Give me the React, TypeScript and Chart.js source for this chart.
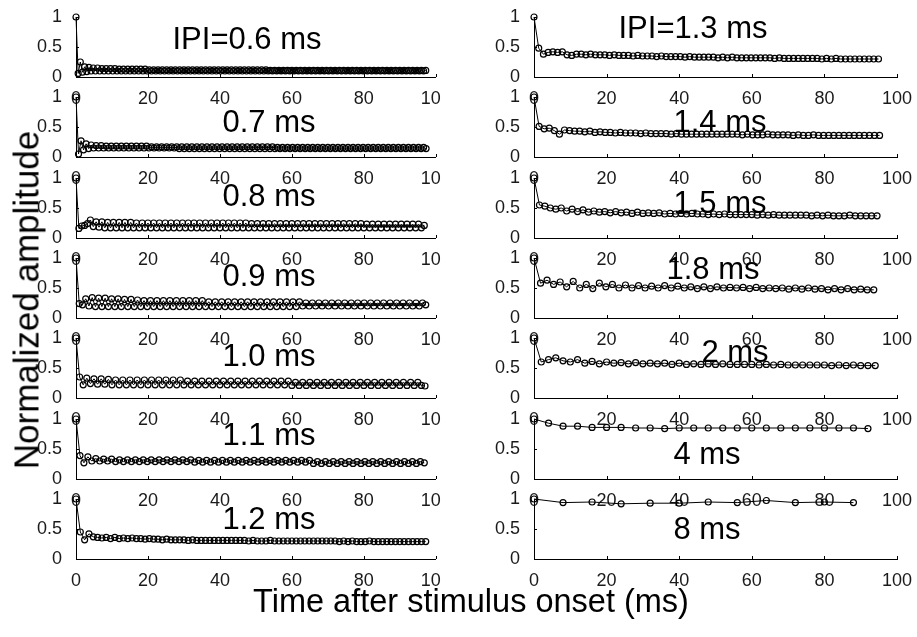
import React, { useEffect, useRef } from "react";
import { Chart, registerables } from "chart.js";
Chart.register(...registerables);

// ---- Data: inter-pulse intervals (ms) and normalized amplitudes per pulse ----
const ipiValues = [0.6, 0.7, 0.8, 0.9, 1.0, 1.1, 1.2, 1.3, 1.4, 1.5, 1.8, 2, 4, 8];
const panelTitles = ["IPI=0.6 ms", "0.7 ms", "0.8 ms", "0.9 ms", "1.0 ms", "1.1 ms", "1.2 ms",
  "IPI=1.3 ms", "1.4 ms", "1.5 ms", "1.8 ms", "2 ms", "4 ms", "8 ms"];
const xTicks = [0, 20, 40, 60, 80, 100];
const yTicks = [0, 0.5, 1];

const amp06 = [
  1, 0.06, 0.25, 0.08, 0.17, 0.09, 0.16, 0.1, 0.15, 0.1,
  0.15, 0.1, 0.14, 0.1, 0.14, 0.1, 0.14, 0.1, 0.14, 0.1,
  0.13, 0.1, 0.13, 0.1, 0.13, 0.1, 0.13, 0.1, 0.13, 0.1,
  0.13, 0.1, 0.13, 0.1, 0.12, 0.1, 0.12, 0.1, 0.12, 0.1,
  0.12, 0.1, 0.12, 0.1, 0.12, 0.1, 0.12, 0.1, 0.12, 0.1,
  0.12, 0.1, 0.12, 0.1, 0.12, 0.1, 0.12, 0.1, 0.12, 0.1,
  0.12, 0.1, 0.12, 0.1, 0.12, 0.1, 0.12, 0.1, 0.12, 0.1,
  0.12, 0.1, 0.12, 0.1, 0.12, 0.1, 0.12, 0.1, 0.12, 0.1,
  0.12, 0.1, 0.12, 0.1, 0.12, 0.1, 0.12, 0.1, 0.12, 0.1,
  0.11, 0.1, 0.11, 0.1, 0.11, 0.1, 0.11, 0.1, 0.11, 0.1,
  0.11, 0.1, 0.11, 0.1, 0.11, 0.1, 0.11, 0.1, 0.11, 0.1,
  0.11, 0.1, 0.11, 0.1, 0.11, 0.1, 0.11, 0.1, 0.11, 0.1,
  0.11, 0.1, 0.11, 0.1, 0.11, 0.1, 0.11, 0.1, 0.11, 0.1,
  0.11, 0.1, 0.11, 0.1, 0.11, 0.1, 0.11, 0.1, 0.11, 0.1,
  0.11, 0.1, 0.11, 0.1, 0.11, 0.1, 0.11, 0.1, 0.11, 0.1,
  0.11, 0.1, 0.11, 0.1, 0.11, 0.1, 0.11, 0.1, 0.11, 0.1,
  0.11, 0.1, 0.11,
];
const amp07 = [
  1, 0.05, 0.27, 0.12, 0.22, 0.14, 0.2, 0.15, 0.19, 0.15,
  0.19, 0.15, 0.18, 0.15, 0.18, 0.15, 0.18, 0.15, 0.18, 0.15,
  0.18, 0.15, 0.18, 0.15, 0.18, 0.15, 0.18, 0.15, 0.18, 0.15,
  0.17, 0.15, 0.17, 0.15, 0.17, 0.15, 0.17, 0.15, 0.17, 0.15,
  0.17, 0.14, 0.17, 0.14, 0.17, 0.14, 0.17, 0.14, 0.17, 0.14,
  0.17, 0.14, 0.17, 0.14, 0.17, 0.14, 0.17, 0.14, 0.17, 0.14,
  0.17, 0.14, 0.17, 0.14, 0.17, 0.14, 0.17, 0.14, 0.17, 0.14,
  0.17, 0.14, 0.17, 0.14, 0.17, 0.14, 0.17, 0.14, 0.17, 0.14,
  0.16, 0.14, 0.16, 0.14, 0.16, 0.14, 0.16, 0.14, 0.16, 0.14,
  0.16, 0.14, 0.16, 0.14, 0.16, 0.14, 0.16, 0.14, 0.16, 0.14,
  0.16, 0.14, 0.16, 0.14, 0.16, 0.14, 0.16, 0.14, 0.16, 0.14,
  0.16, 0.14, 0.16, 0.14, 0.16, 0.14, 0.16, 0.14, 0.16, 0.14,
  0.16, 0.14, 0.16, 0.14, 0.16, 0.14, 0.16, 0.14, 0.16, 0.14,
  0.16, 0.14, 0.16, 0.14, 0.16, 0.14, 0.16, 0.14, 0.16, 0.14,
];
const amp08 = [
  1, 0.16, 0.2, 0.21, 0.24, 0.3, 0.19, 0.27, 0.18, 0.27,
  0.17, 0.26, 0.17, 0.26, 0.17, 0.26, 0.17, 0.26, 0.17, 0.26,
  0.17, 0.25, 0.17, 0.25, 0.17, 0.25, 0.17, 0.25, 0.17, 0.25,
  0.17, 0.25, 0.17, 0.25, 0.17, 0.25, 0.17, 0.25, 0.17, 0.25,
  0.17, 0.25, 0.17, 0.25, 0.17, 0.25, 0.17, 0.25, 0.17, 0.25,
  0.17, 0.25, 0.17, 0.25, 0.17, 0.25, 0.17, 0.25, 0.17, 0.25,
  0.17, 0.24, 0.17, 0.24, 0.17, 0.24, 0.17, 0.24, 0.17, 0.24,
  0.17, 0.24, 0.17, 0.24, 0.17, 0.24, 0.17, 0.24, 0.17, 0.24,
  0.17, 0.24, 0.17, 0.24, 0.17, 0.24, 0.17, 0.24, 0.17, 0.24,
  0.17, 0.24, 0.17, 0.24, 0.17, 0.24, 0.17, 0.24, 0.17, 0.24,
  0.17, 0.23, 0.17, 0.23, 0.17, 0.23, 0.17, 0.23, 0.17, 0.23,
  0.17, 0.23, 0.17, 0.23, 0.17, 0.23, 0.17, 0.23, 0.17, 0.23,
  0.17, 0.21,
];
const amp09 = [
  1, 0.24, 0.22, 0.32, 0.2, 0.34, 0.19, 0.33, 0.19, 0.33,
  0.19, 0.32, 0.19, 0.32, 0.19, 0.31, 0.19, 0.31, 0.19, 0.3,
  0.19, 0.29, 0.19, 0.29, 0.19, 0.29, 0.19, 0.29, 0.19, 0.29,
  0.19, 0.29, 0.19, 0.29, 0.19, 0.29, 0.19, 0.29, 0.19, 0.29,
  0.19, 0.27, 0.19, 0.27, 0.19, 0.27, 0.19, 0.27, 0.19, 0.27,
  0.19, 0.27, 0.19, 0.27, 0.19, 0.27, 0.19, 0.27, 0.19, 0.27,
  0.19, 0.27, 0.19, 0.27, 0.19, 0.27, 0.19, 0.27, 0.19, 0.27,
  0.2, 0.25, 0.2, 0.25, 0.2, 0.25, 0.2, 0.25, 0.2, 0.25,
  0.2, 0.25, 0.2, 0.25, 0.2, 0.25, 0.2, 0.25, 0.2, 0.25,
  0.2, 0.25, 0.2, 0.25, 0.2, 0.25, 0.2, 0.25, 0.2, 0.25,
  0.2, 0.25, 0.2, 0.25, 0.2, 0.25, 0.2, 0.25, 0.22,
];
const amp10 = [
  1, 0.35, 0.22, 0.33, 0.24, 0.32, 0.23, 0.32, 0.23, 0.31,
  0.22, 0.3, 0.22, 0.3, 0.22, 0.3, 0.22, 0.3, 0.22, 0.3,
  0.22, 0.3, 0.22, 0.3, 0.22, 0.3, 0.22, 0.3, 0.22, 0.3,
  0.22, 0.28, 0.22, 0.28, 0.22, 0.28, 0.22, 0.28, 0.22, 0.28,
  0.22, 0.28, 0.22, 0.28, 0.22, 0.28, 0.22, 0.28, 0.22, 0.28,
  0.22, 0.28, 0.22, 0.28, 0.22, 0.28, 0.22, 0.28, 0.22, 0.28,
  0.21, 0.26, 0.21, 0.26, 0.21, 0.26, 0.21, 0.26, 0.21, 0.26,
  0.21, 0.26, 0.21, 0.26, 0.21, 0.26, 0.21, 0.26, 0.21, 0.26,
  0.21, 0.26, 0.21, 0.26, 0.21, 0.26, 0.21, 0.26, 0.21, 0.26,
  0.21, 0.26, 0.21, 0.26, 0.21, 0.26, 0.21, 0.2,
];
const amp11 = [
  1, 0.39, 0.27, 0.37, 0.3, 0.34, 0.3, 0.33, 0.3, 0.33,
  0.29, 0.32, 0.29, 0.32, 0.29, 0.32, 0.29, 0.32, 0.29, 0.32,
  0.29, 0.32, 0.29, 0.32, 0.29, 0.32, 0.29, 0.32, 0.29, 0.32,
  0.28, 0.31, 0.28, 0.31, 0.28, 0.31, 0.28, 0.31, 0.28, 0.31,
  0.28, 0.31, 0.28, 0.31, 0.28, 0.31, 0.28, 0.31, 0.28, 0.31,
  0.28, 0.31, 0.28, 0.31, 0.28, 0.31, 0.28, 0.31, 0.28, 0.31,
  0.26, 0.29, 0.26, 0.29, 0.26, 0.29, 0.26, 0.29, 0.26, 0.29,
  0.26, 0.29, 0.26, 0.29, 0.26, 0.29, 0.26, 0.29, 0.26, 0.29,
  0.26, 0.29, 0.26, 0.29, 0.26, 0.29, 0.26, 0.29, 0.27,
];
const amp12 = [
  1, 0.45, 0.32, 0.42, 0.37, 0.36, 0.35, 0.36, 0.34, 0.36,
  0.34, 0.35, 0.34, 0.35, 0.34, 0.34, 0.33, 0.34, 0.33, 0.33,
  0.32, 0.33, 0.32, 0.32, 0.32, 0.32, 0.31, 0.32, 0.31, 0.31,
  0.31, 0.31, 0.31, 0.31, 0.31, 0.31, 0.31, 0.31, 0.31, 0.31,
  0.3, 0.31, 0.3, 0.3, 0.3, 0.31, 0.3, 0.3, 0.3, 0.3,
  0.3, 0.3, 0.3, 0.3, 0.3, 0.3, 0.3, 0.3, 0.3, 0.3,
  0.3, 0.29, 0.3, 0.29, 0.3, 0.29, 0.29, 0.29, 0.3, 0.29,
  0.29, 0.29, 0.29, 0.29, 0.29, 0.29, 0.29, 0.29, 0.29, 0.29,
  0.29, 0.29,
];
const amp13 = [
  1, 0.48, 0.38, 0.41, 0.42, 0.41, 0.42, 0.37, 0.36, 0.38,
  0.38, 0.37, 0.38, 0.37, 0.37, 0.37, 0.36, 0.37, 0.36, 0.36,
  0.36, 0.35, 0.36, 0.35, 0.35, 0.35, 0.34, 0.35, 0.34, 0.34,
  0.34, 0.34, 0.33, 0.34, 0.33, 0.33, 0.33, 0.33, 0.33, 0.32,
  0.33, 0.32, 0.33, 0.32, 0.32, 0.32, 0.32, 0.32, 0.32, 0.32,
  0.32, 0.31, 0.32, 0.31, 0.31, 0.31, 0.31, 0.31, 0.31, 0.31,
  0.31, 0.3, 0.31, 0.3, 0.31, 0.3, 0.3, 0.3, 0.3, 0.3,
  0.3, 0.3, 0.3, 0.3,
];
const amp14 = [
  1, 0.51, 0.47, 0.48, 0.44, 0.38, 0.45, 0.44, 0.43, 0.43,
  0.42, 0.43, 0.41, 0.42, 0.41, 0.41, 0.4, 0.41, 0.4, 0.4,
  0.4, 0.39, 0.4, 0.39, 0.39, 0.39, 0.39, 0.38, 0.39, 0.38,
  0.38, 0.38, 0.38, 0.38, 0.38, 0.38, 0.38, 0.38, 0.38, 0.38,
  0.38, 0.37, 0.38, 0.37, 0.37, 0.37, 0.38, 0.37, 0.37, 0.37,
  0.37, 0.36, 0.37, 0.36, 0.36, 0.37, 0.36, 0.36, 0.36, 0.36,
  0.36, 0.36, 0.36, 0.36, 0.36, 0.36, 0.36, 0.36, 0.36,
];
const amp15 = [
  1, 0.55, 0.53, 0.5, 0.48, 0.5, 0.45, 0.48, 0.44, 0.47,
  0.43, 0.45, 0.43, 0.44, 0.42, 0.44, 0.42, 0.43, 0.41, 0.43,
  0.41, 0.42, 0.41, 0.42, 0.4, 0.41, 0.4, 0.41, 0.4, 0.41,
  0.4, 0.4, 0.39, 0.4, 0.39, 0.4, 0.39, 0.39, 0.39, 0.39,
  0.39, 0.38, 0.39, 0.38, 0.39, 0.38, 0.38, 0.38, 0.38, 0.38,
  0.38, 0.37, 0.38, 0.37, 0.38, 0.37, 0.37, 0.37, 0.38, 0.37,
  0.37, 0.37, 0.37, 0.37,
];
const amp18 = [
  1, 0.58, 0.63, 0.56, 0.6, 0.52, 0.61, 0.5, 0.56, 0.49,
  0.58, 0.52, 0.56, 0.5, 0.55, 0.5, 0.54, 0.5, 0.53, 0.5,
  0.54, 0.5, 0.53, 0.5, 0.52, 0.49, 0.52, 0.49, 0.52, 0.5,
  0.51, 0.5, 0.51, 0.49, 0.51, 0.49, 0.5, 0.49, 0.5, 0.48,
  0.5, 0.48, 0.5, 0.48, 0.49, 0.47, 0.49, 0.47, 0.49, 0.47,
  0.48, 0.47, 0.47,
];
const amp20 = [
  1, 0.6, 0.64, 0.67, 0.62, 0.6, 0.64, 0.58, 0.61, 0.57,
  0.6, 0.58, 0.59, 0.57, 0.59, 0.57, 0.58, 0.57, 0.58, 0.56,
  0.58, 0.56, 0.57, 0.56, 0.57, 0.56, 0.57, 0.56, 0.56, 0.56,
  0.56, 0.55, 0.56, 0.55, 0.56, 0.55, 0.55, 0.55, 0.55, 0.55,
  0.55, 0.54, 0.55, 0.54, 0.55, 0.54, 0.54, 0.54,
];
const amp40 = [
  1, 0.93, 0.88, 0.88, 0.86, 0.86, 0.86, 0.85, 0.85, 0.84,
  0.85, 0.85, 0.85, 0.85, 0.85, 0.85, 0.85, 0.85, 0.85, 0.85,
  0.85, 0.85, 0.85, 0.84,
];
const amp80 = [1, 0.94, 0.95, 0.92, 0.93, 0.93, 0.95, 0.94, 0.975, 0.94, 0.95, 0.94];

const ampSeries = [amp06, amp07, amp08, amp09, amp10, amp11, amp12,
  amp13, amp14, amp15, amp18, amp20, amp40, amp80];

// ---- Layout (pixels) ----
const FONT = "'Liberation Sans', Arial, Helvetica, sans-serif";
const PAD_L = 60;
const PAD_T = 10;
const PAD_B = 30;
const PLOT_H = 60;
const PLOT_W = 363;
const colAxisX = [76, 534];
const colRightEdge = [441, 917];
const rowZeroY = [77, 157, 238, 318, 398, 479, 559];
// title centers [x, y]
const titlePos: [number, number][] = [
  [247, 38], [269, 121], [269, 195], [269, 275], [269, 355], [269, 434], [269, 518],
  [693, 27], [720, 121], [720, 202], [713, 268], [735, 351], [707, 453], [707, 528],
];

const inwardTicks = {
  id: "inwardTicks",
  afterDraw(chart: any) {
    const { ctx, chartArea, scales } = chart;
    ctx.save();
    ctx.strokeStyle = "#000";
    ctx.lineWidth = 1;
    xTicks.forEach((v) => {
      const px = Math.round(scales.x.getPixelForValue(v)) + 0.5;
      ctx.beginPath();
      ctx.moveTo(px, chartArea.bottom);
      ctx.lineTo(px, chartArea.bottom - 3);
      ctx.stroke();
    });
    yTicks.forEach((v) => {
      const py = Math.round(scales.y.getPixelForValue(v)) + 0.5;
      ctx.beginPath();
      ctx.moveTo(chartArea.left, py);
      ctx.lineTo(chartArea.left + 3, py);
      ctx.stroke();
    });
    ctx.restore();
  },
};

function Panel({ index }: { index: number }) {
  const ref = useRef<HTMLCanvasElement>(null);
  const col = index < 7 ? 0 : 1;
  const row = index % 7;
  const left = colAxisX[col] - PAD_L;
  const width = colRightEdge[col] - left;
  const top = rowZeroY[row] - PLOT_H - PAD_T;
  const height = PAD_T + PLOT_H + PAD_B;
  const padR = width - PAD_L - PLOT_W;

  useEffect(() => {
    const ipi = ipiValues[index];
    const amps = ampSeries[index];
    const data = amps.map((v, i) => ({ x: +(i * ipi).toFixed(3), y: v }));
    const tickFont = { family: FONT, size: 18 };
    const chart = new Chart(ref.current as HTMLCanvasElement, {
      type: "line",
      data: {
        datasets: [
          {
            data,
            borderColor: "#000",
            borderWidth: 1,
            pointRadius: 3,
            pointBorderWidth: 1.2,
            pointBorderColor: "#000",
            pointBackgroundColor: "rgba(0,0,0,0)",
            tension: 0,
            clip: false as any,
          },
        ],
      },
      options: {
        responsive: false,
        animation: false,
        events: [],
        layout: { padding: { left: 0, top: PAD_T, right: padR, bottom: 0 } },
        plugins: { legend: { display: false }, tooltip: { enabled: false }, title: { display: false } },
        scales: {
          x: {
            type: "linear",
            min: 0,
            max: 100,
            afterBuildTicks: (s: any) => { s.ticks = xTicks.map((v) => ({ value: v })); },
            ticks: { font: tickFont, color: "#1a1a1a", padding: 3, maxRotation: 0, autoSkip: false,
              callback: (v: any) => String(v) },
            grid: { display: false },
            border: { display: true, color: "#000", width: 1 },
            afterFit: (s: any) => { s.height = PAD_B; s.paddingLeft = 0; s.paddingRight = 0; },
          },
          y: {
            type: "linear",
            min: 0,
            max: 1,
            afterBuildTicks: (s: any) => { s.ticks = yTicks.map((v) => ({ value: v })); },
            ticks: { font: tickFont, color: "#1a1a1a", padding: 6, callback: (v: any) => String(v) },
            grid: { display: false },
            border: { display: true, color: "#000", width: 1 },
            afterFit: (s: any) => { s.width = PAD_L; s.paddingTop = 0; s.paddingBottom = 0; },
          },
        },
      },
      plugins: [inwardTicks],
    } as any);
    return () => chart.destroy();
  }, [index]);

  return (
    <canvas
      ref={ref}
      width={width}
      height={height}
      style={{ position: "absolute", left, top, width, height }}
    />
  );
}

export default function App() {
  return (
    <div
      style={{
        position: "absolute",
        left: 0,
        top: 0,
        width: 917,
        height: 637,
        overflow: "hidden",
        background: "#fff",
        fontFamily: FONT,
      }}
    >
      {ipiValues.map((_, i) => (
        <Panel key={i} index={i} />
      ))}
      {panelTitles.map((t, i) => (
        <div
          key={"t" + i}
          style={{
            position: "absolute",
            left: titlePos[i][0],
            top: titlePos[i][1],
            transform: "translate(-50%, -50%)",
            fontSize: 31,
            lineHeight: 1,
            whiteSpace: "nowrap",
            color: "#000",
          }}
        >
          {t}
        </div>
      ))}
      <div
        style={{
          position: "absolute",
          left: 26,
          top: 300,
          transform: "translate(-50%, -50%) rotate(-90deg)",
          fontSize: 35,
          lineHeight: 1,
          whiteSpace: "nowrap",
          color: "#000",
        }}
      >
        Normalized amplitude
      </div>
      <div
        style={{
          position: "absolute",
          left: 471,
          top: 601,
          transform: "translate(-50%, -50%)",
          fontSize: 32.5,
          lineHeight: 1,
          whiteSpace: "nowrap",
          color: "#000",
        }}
      >
        Time after stimulus onset (ms)
      </div>
    </div>
  );
}
